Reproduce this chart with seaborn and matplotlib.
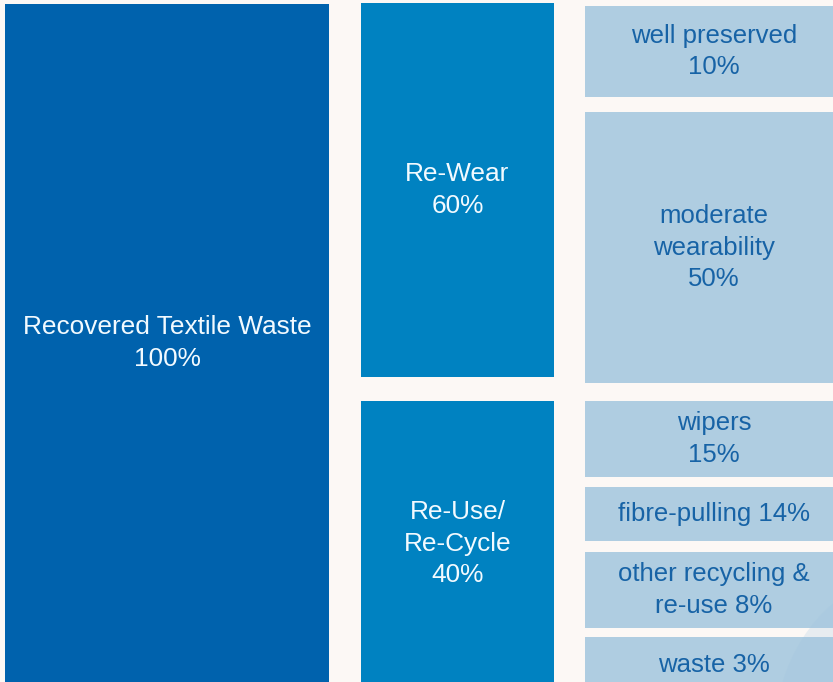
import matplotlib
matplotlib.use("Agg")
import matplotlib.pyplot as plt
from matplotlib.patches import Rectangle, Ellipse
import seaborn as sns

# Hierarchy of recovered textile waste streams
root_label = ["Recovered Textile Waste"]
root_pct = [100]

stream_labels = ["Re-Wear", "Re-Use/\nRe-Cycle"]
stream_pct = [60, 40]

outlet_labels = ["well preserved", "moderate\nwearability", "wipers",
                 "fibre-pulling", "other recycling &\nre-use", "waste"]
outlet_pct = [10, 50, 15, 14, 8, 3]
# separator between name and percentage in each outlet label
outlet_sep = ["\n", "\n", "\n", " ", " ", " "]

# Layout in pixel units (x from left, y from top)
W, H = 833, 682
col_x = [(5, 329), (361, 554), (585, 843)]
root_y = [(4, 682)]
stream_y = [(3, 377), (401, 686)]
outlet_y = [(6, 97), (112, 383), (401, 477), (487, 541), (552, 628), (637, 692)]

BG = "#FCF8F5"
COLORS = ["#0062AD", "#0082C1", "#AFCDE1"]
TEXT_COLORS = ["#F2FAFF", "#F2FAFF", "#1763A6"]
FONT_SIZES = [18.9, 18.9, 18.5]

sns.set_theme(style="white")
plt.rcParams["font.family"] = ["Liberation Sans", "DejaVu Sans"]

fig = plt.figure(figsize=(W / 100, H / 100), dpi=100, facecolor=BG)
ax = fig.add_axes([0, 0, 1, 1])
ax.set_facecolor(BG)
ax.set_xlim(0, W)
ax.set_ylim(H, 0)
ax.set_axis_off()


def draw_column(level, labels, pcts, seps, spans):
    x0, x1 = col_x[level]
    for lab, p, sep, (y0, y1) in zip(labels, pcts, seps, spans):
        ax.add_patch(Rectangle((x0, y0), x1 - x0, y1 - y0,
                               facecolor=COLORS[level], edgecolor="none", zorder=1))
        ax.text((x0 + x1) / 2, (y0 + y1) / 2, f"{lab}{sep}{p}%",
                ha="center", va="center",
                color=TEXT_COLORS[level], fontsize=FONT_SIZES[level],
                linespacing=1.38, zorder=3)


draw_column(0, root_label, root_pct, ["\n"], root_y)
draw_column(1, stream_labels, stream_pct, ["\n", "\n"], stream_y)
draw_column(2, outlet_labels, outlet_pct, outlet_sep, outlet_y)

# faint decorative swirl in the lower right corner
ax.add_patch(Ellipse((875, 705), 190, 260, angle=20, facecolor="#9EC3E0",
                     edgecolor="none", alpha=0.22, zorder=2))

fig.savefig("out.png", dpi=100, facecolor=BG)
